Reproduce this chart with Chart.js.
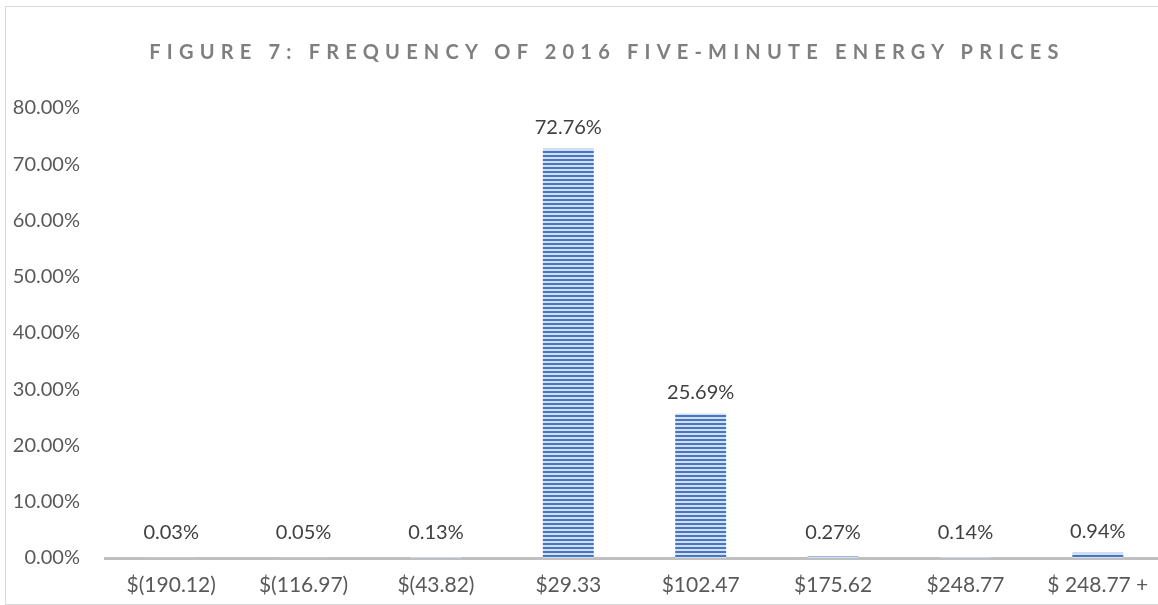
<!DOCTYPE html>
<html>
<head>
<meta charset="utf-8">
<script src="https://cdn.jsdelivr.net/npm/chart.js@4/dist/chart.umd.min.js"></script>
<style>
    body { margin: 0; overflow: hidden; background: #fff; }
    #frame {
        position: absolute; left: 5px; top: 6px;
        width: 1175px; height: 597px;
        border: 1px solid #d9d9d9;
    }
    #title {
        position: absolute; left: 0; top: 39px; width: 1214px;
        text-align: center;
        font: bold 20px Lato, sans-serif;
        letter-spacing: 6.2px;
        color: #7f7f7f;
    }
    #wrap { position: absolute; left: 0; top: 0; width: 1175px; height: 597px; }
</style>
</head>
<body>
<div id="frame">
    <div id="wrap"><canvas id="priceChart"></canvas></div>
</div>
<div id="title">FIGURE 7: FREQUENCY OF 2016 FIVE-MINUTE ENERGY PRICES</div>
<script>
'use strict';

const categories = ["$(190.12)", "$(116.97)", "$(43.82)", "$29.33", "$102.47", "$175.62", "$248.77", "$ 248.77 +"];
const frequency = [0.03, 0.05, 0.13, 72.76, 25.69, 0.27, 0.14, 0.94];
const yTicks = [0, 10, 20, 30, 40, 50, 60, 70, 80];

const FONT = 'Lato, sans-serif';

function stripePattern() {
    let c = document.createElement('canvas');
    c.width = 4;
    c.height = 4;
    let g = c.getContext('2d');
    g.fillStyle = '#d3dff1';
    g.fillRect(0, 0, 4, 4);
    g.fillStyle = '#4677c2';
    g.fillRect(0, 0, 4, 2);
    return g.createPattern(c, 'repeat');
}

// values above each bar
const valueLabels = {
    id: 'valueLabels',
    afterDatasetsDraw(chart) {
        let ctx = chart.ctx;
        let meta = chart.getDatasetMeta(0);
        ctx.save();
        ctx.font = '20px ' + FONT;
        ctx.fillStyle = '#404040';
        ctx.textAlign = 'center';
        ctx.textBaseline = 'middle';
        meta.data.forEach((bar, i) => {
            ctx.fillText(frequency[i].toFixed(2) + '%', bar.x, Math.min(bar.y, chart.chartArea.bottom - 4) - 21);
        });
        ctx.restore();
    }
};

let ctx = document.getElementById('priceChart');
let myChart = new Chart(ctx, {
    type: 'bar',
    data: {
        labels: categories,
        datasets: [{
            data: frequency,
            backgroundColor: stripePattern(),
            borderWidth: 0,
            categoryPercentage: 1,
            barPercentage: 0.385
        }]
    },
    options: {
        responsive: true,
        maintainAspectRatio: false,
        animation: false,
        layout: { padding: { top: 101, left: 0, right: 17, bottom: 0 } },
        plugins: {
            legend: { display: false },
            tooltip: { enabled: false }
        },
        scales: {
            x: {
                grid: { display: false, drawTicks: false },
                border: { display: true, color: '#bfbfbf', width: 3 },
                ticks: { color: '#595959', font: { family: FONT, size: 21 }, padding: 15, maxRotation: 0 },
                afterFit: scale => { scale.height = 46; }
            },
            y: {
                min: 0,
                max: 80,
                grid: { display: false, drawTicks: false },
                border: { display: false },
                afterBuildTicks: scale => { scale.ticks = yTicks.map(v => ({ value: v })); },
                ticks: {
                    color: '#595959',
                    font: { family: FONT, size: 20 },
                    padding: 25,
                    callback: v => v.toFixed(2) + '%'
                },
                afterFit: scale => { scale.width = 99; }
            }
        }
    },
    plugins: [valueLabels]
});
</script>
</body>
</html>
